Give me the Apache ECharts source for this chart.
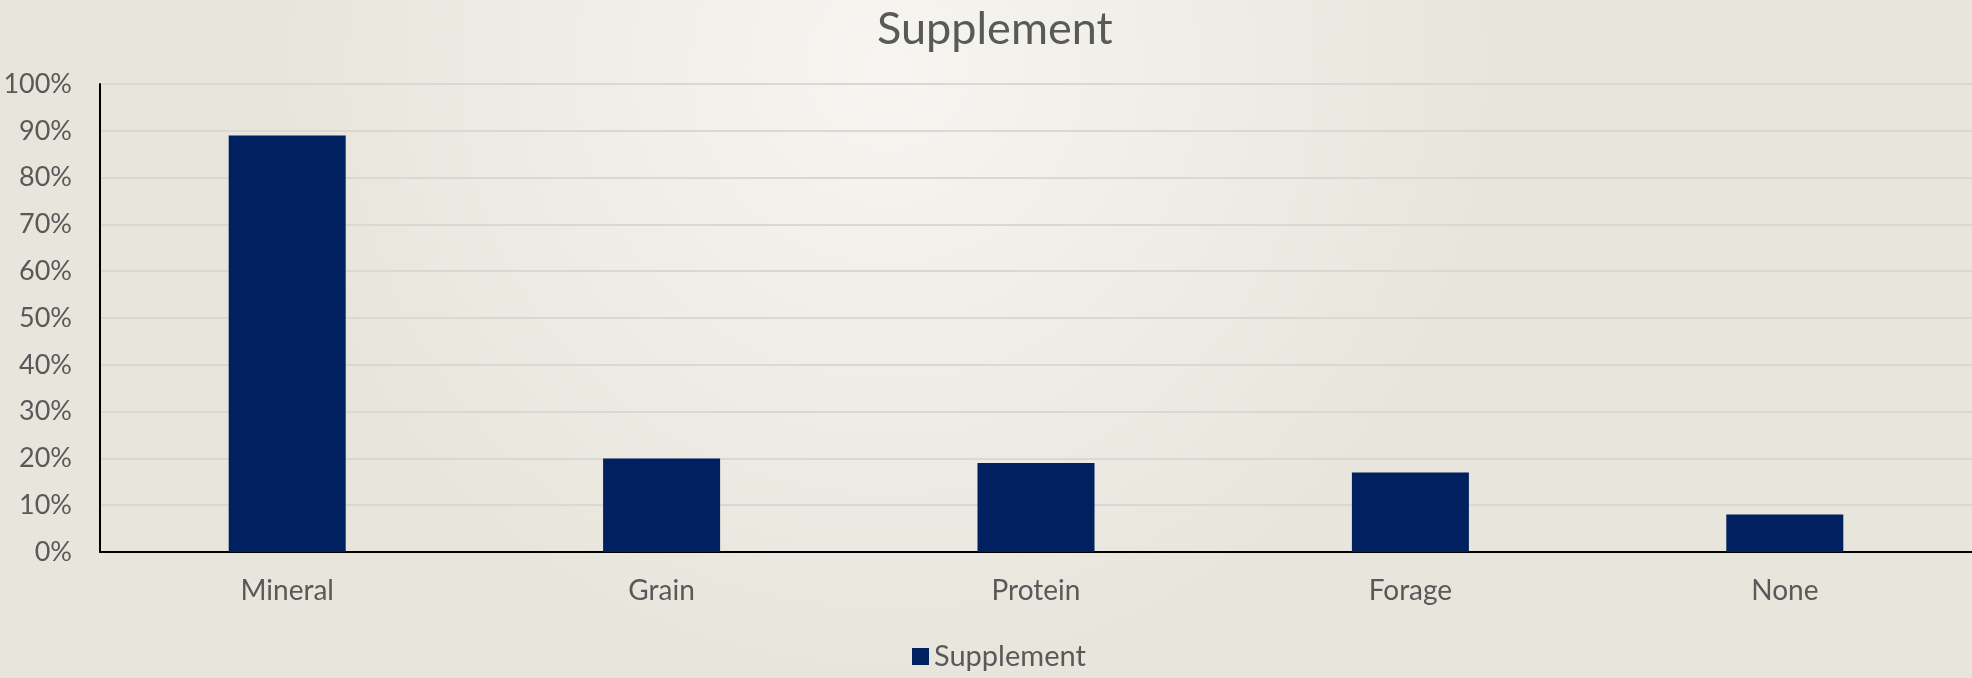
<!DOCTYPE html>
<html>
<head>
<meta charset="utf-8">
<script src="https://cdn.jsdelivr.net/npm/echarts@6/dist/echarts.min.js"></script>
<style>
  html, body { margin: 0; padding: 0; }
  #main { width: 1972px; height: 678px; }
</style>
</head>
<body>
<div id="main"></div>
<script>
var categories = ['Mineral', 'Grain', 'Protein', 'Forage', 'None'];
var supplement = [89, 20, 19, 17, 8]; // percent of respondents
var yTicks = [0, 10, 20, 30, 40, 50, 60, 70, 80, 90, 100];

var textColor = '#595959';
var font = 'Lato, "Open Sans", sans-serif';

var myChart = echarts.init(document.getElementById('main'));
var option = {
    backgroundColor: new echarts.graphic.RadialGradient(0.45, 0.1, 0.9, [
        {offset: 0, color: '#f6f5f1'},
        {offset: 1, color: '#e8e5dc'}
    ]),
    animation: false,
    title: {
        text: 'Supplement',
        left: 872,
        top: 2,
        textStyle: {color: textColor, fontFamily: font, fontSize: 45, fontWeight: 'normal'}
    },
    legend: {
        data: ['Supplement'],
        top: 637,
        left: 907,
        itemWidth: 17,
        itemHeight: 17,
        itemGap: 8,
        icon: 'rect',
        textStyle: {color: textColor, fontFamily: font, fontSize: 29}
    },
    grid: {left: 100, right: 0, top: 84, bottom: 126},
    xAxis: {
        type: 'category',
        data: categories,
        axisLine: {lineStyle: {color: '#000', width: 2}},
        axisTick: {show: false},
        axisLabel: {color: textColor, fontFamily: font, fontSize: 28, margin: 25}
    },
    yAxis: {
        type: 'value',
        min: yTicks[0],
        max: yTicks[yTicks.length - 1],
        interval: 10,
        axisLine: {show: true, lineStyle: {color: '#000', width: 2}},
        axisTick: {show: false},
        axisLabel: {color: textColor, fontFamily: font, fontSize: 27, margin: 28, formatter: '{value}%'},
        splitLine: {lineStyle: {color: '#d9d8d4', width: 2}}
    },
    series: [{
        name: 'Supplement',
        type: 'bar',
        data: supplement,
        barWidth: 117,
        itemStyle: {color: '#002060'}
    }]
};
myChart.setOption(option);
</script>
</body>
</html>
